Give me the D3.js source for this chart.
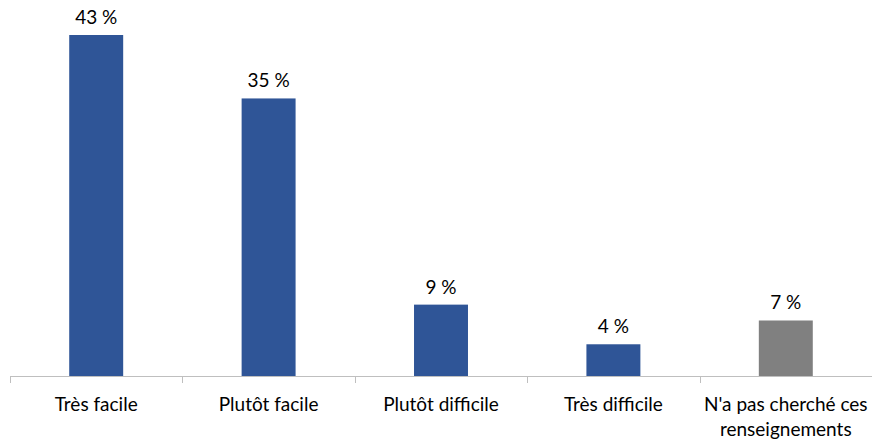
<!DOCTYPE html>
<html><head><meta charset="utf-8">
<script src="https://cdn.jsdelivr.net/npm/d3@7"></script>
<style>body{margin:0;background:#fff}svg{display:block}</style>
</head><body>
<svg id="c" width="872" height="443"></svg>
<script>
const categories = ["Très facile", "Plutôt facile", "Plutôt difficile", "Très difficile", "N'a pas cherché ces renseignements"];
const values = [43, 35, 9, 4, 7];
const barColors = ["#2F5597", "#2F5597", "#2F5597", "#2F5597", "#808080"];
const labelLines = [["Très facile"], ["Plutôt facile"], ["Plutôt difficile"], ["Très difficile"], ["N'a pas cherché ces", "renseignements"]];

const svg = d3.select("#c");
const font = "Lato, 'Open Sans', sans-serif";
const x = d3.scaleBand().domain(categories).range([10, 872]).paddingInner(0.687).paddingOuter(0.3435);
const y = d3.scaleLinear().domain([0, 43]).range([376, 35]);

svg.selectAll("rect.bar").data(values).join("rect")
  .attr("x", (d, i) => x(categories[i]))
  .attr("y", d => y(d))
  .attr("width", x.bandwidth())
  .attr("height", d => y(0) - y(d))
  .attr("fill", (d, i) => barColors[i]);

svg.selectAll("text.val").data(values).join("text")
  .attr("x", (d, i) => x(categories[i]) + x.bandwidth() / 2)
  .attr("y", d => y(d) - 11)
  .attr("text-anchor", "middle")
  .attr("font-family", font).attr("font-size", 19).attr("fill", "#000")
  .text(d => d + " %");

// axis
svg.append("line").attr("x1", 10).attr("x2", 872).attr("y1", 376.5).attr("y2", 376.5)
  .attr("stroke", "#bfbfbf").attr("stroke-width", 1);
const bounds = d3.range(categories.length + 1).map(i => 10 + i * (862 / categories.length));
svg.selectAll("line.tick").data(bounds).join("line")
  .attr("x1", d => Math.round(d) + 0.5).attr("x2", d => Math.round(d) + 0.5)
  .attr("y1", 376).attr("y2", 383).attr("stroke", "#bfbfbf");

const g = svg.selectAll("text.cat").data(categories).join("text")
  .attr("text-anchor", "middle")
  .attr("font-family", font).attr("font-size", 19).attr("fill", "#000");
g.each(function(d, i) {
  const t = d3.select(this);
  labelLines[i].forEach((line, j) => {
    t.append("tspan").attr("x", x(d) + x.bandwidth() / 2).attr("y", 411 + j * 25).text(line);
  });
});
</script>
</body></html>
